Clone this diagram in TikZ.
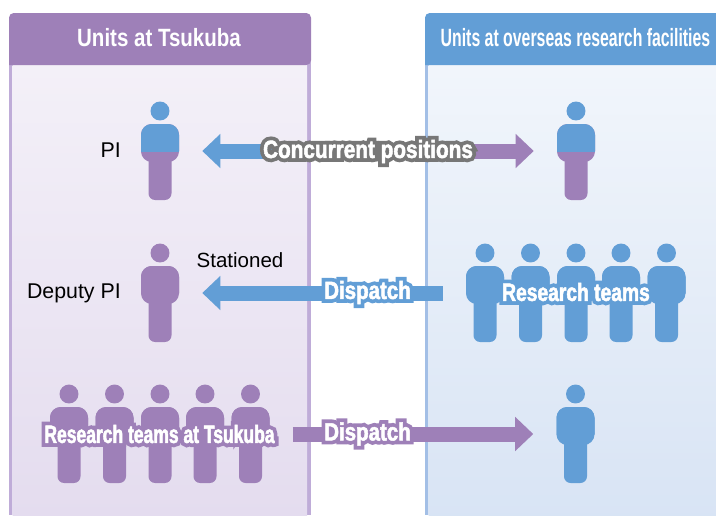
\documentclass[tikz,border=0pt]{standalone}
\usepackage{fontspec}
\setmainfont{Liberation Sans}
\usetikzlibrary{arrows.meta}
\definecolor{purpleUnit}{HTML}{9E80B8}
\definecolor{blueUnit}{HTML}{629ED6}
\definecolor{purpleEdge}{HTML}{BFACD8}
\definecolor{blueEdge}{HTML}{A3BFE6}
\definecolor{haloGray}{HTML}{777777}
\newcommand{\halotext}[3]{\makebox[0pt]{\bfseries\addfontfeature{FakeStretch=#1,FakeBold=32}\color{#2}#3}\makebox[0pt]{\bfseries\addfontfeature{FakeStretch=#1,FakeBold=2}\color{white}#3}}
\newcommand{\person}[5]{
\node[figure] (#1) at (#2, #3) {};
\fill[#5, rounded corners=5pt] (#2-11.5, #3-5) rectangle (#2+11.5, #3+49);
\fill[#5, rounded corners=8pt] (#2-19, #3-27) rectangle (#2+19, #3+11);
\begin{scope}
\clip (#2-30, #3-52) rectangle (#2+30, #3);
\fill[#4] (#2, #3-40) circle (7.1pt);
\fill[#4, rounded corners=8pt] (#2-19, #3-27) rectangle (#2+19, #3+11);
\end{scope}
}
\tikzset{
figure/.style={minimum width=28.5pt, minimum height=74pt, inner sep=0pt},
blockarrow/.style={line width=11.25pt, -{Triangle[length=13.5pt, width=24.75pt]}, shorten >=17.25pt},
plainlabel/.style={font=\fontsize{16pt}{18pt}\selectfont, inner sep=0pt},
taglabel/.style={font=\fontsize{18.75pt}{20pt}\selectfont, inner sep=0pt},
headlabel/.style={text=white, font=\fontsize{18.75pt}{20pt}\selectfont\bfseries, inner sep=0pt},
}
\begin{document}
\begin{tikzpicture}[x=0.75pt, y=-0.75pt]
\useasboundingbox (0, 0) rectangle (716, 515);
\clip (0, 0) rectangle (716, 515);
% left panel
\fill[purpleEdge] (9, 60) rectangle (311, 515);
\shade[top color=purpleEdge!18!white, bottom color=purpleEdge!42!white] (12.5, 65) rectangle (307, 515);
\fill[purpleUnit, rounded corners=3.5pt] (9, 65) -- (9, 13) -- (311, 13) -- (311, 65) [sharp corners] -- cycle;
% right panel
\fill[blueEdge] (425, 60) rectangle (722, 515);
\shade[top color=blueEdge!15!white, bottom color=blueEdge!42!white] (428.5, 65) rectangle (722, 515);
\fill[blueUnit, rounded corners=3.5pt] (425, 65) -- (425, 13) -- (722, 13) -- (722, 65) [sharp corners] -- cycle;
\node[headlabel] (headL) at (159, 38) {\addfontfeature{FakeStretch=0.82}Units at Tsukuba};
\node[headlabel] (headR) at (575.5, 38) {\addfontfeature{FakeStretch=0.634}Units at overseas research facilities};
% people
\person{pi}{160}{151}{blueUnit}{purpleUnit}
\person{piR}{576}{151}{blueUnit}{purpleUnit}
\person{deputy}{160}{293}{purpleUnit}{purpleUnit}
\foreach \n/\px in {1/69, 2/114.5, 3/160, 4/205, 5/250.5} {
\person{teamL\n}{\px}{434}{purpleUnit}{purpleUnit}
}
\foreach \n/\px in {1/485, 2/530.5, 3/576, 4/621, 5/666.5} {
\person{teamR\n}{\px}{293}{blueUnit}{blueUnit}
}
\person{visitor}{575.5}{434}{blueUnit}{blueUnit}
% arrows
\coordinate (split) at (368, 151);
\draw[blockarrow, blueUnit] (split) -- (pi.east);
\draw[blockarrow, purpleUnit] (split) -- (piR.west);
\draw[blockarrow, blueUnit, shorten <=17.25pt] (teamR1.west) -- (deputy.east);
\draw[blockarrow, purpleUnit, shorten <=17.25pt] (teamL5.east) -- (visitor.west);
% labels
\node[plainlabel, anchor=east] (piText) at (121, 150) {PI};
\node[plainlabel, anchor=east] (deputyText) at (121, 293) {Deputy PI};
\node[plainlabel, font=\fontsize{15.4pt}{18pt}\selectfont] (stationed) at (240, 260) {Stationed};
\node[taglabel] (concurrent) at (368, 151.5) {\halotext{0.83}{haloGray}{Concurrent positions}};
\node[taglabel] (dispatchA) at (367.5, 292.5) {\halotext{0.82}{blueUnit}{Dispatch}};
\node[taglabel] (dispatchB) at (367.5, 434) {\halotext{0.82}{purpleUnit}{Dispatch}};
\node[taglabel] (teamsR) at (576, 292) {\halotext{0.77}{blueUnit}{Research teams}};
\node[taglabel] (teamsL) at (159.5, 434) {\halotext{0.70}{purpleUnit}{Research teams at Tsukuba}};
\end{tikzpicture}
\end{document}
